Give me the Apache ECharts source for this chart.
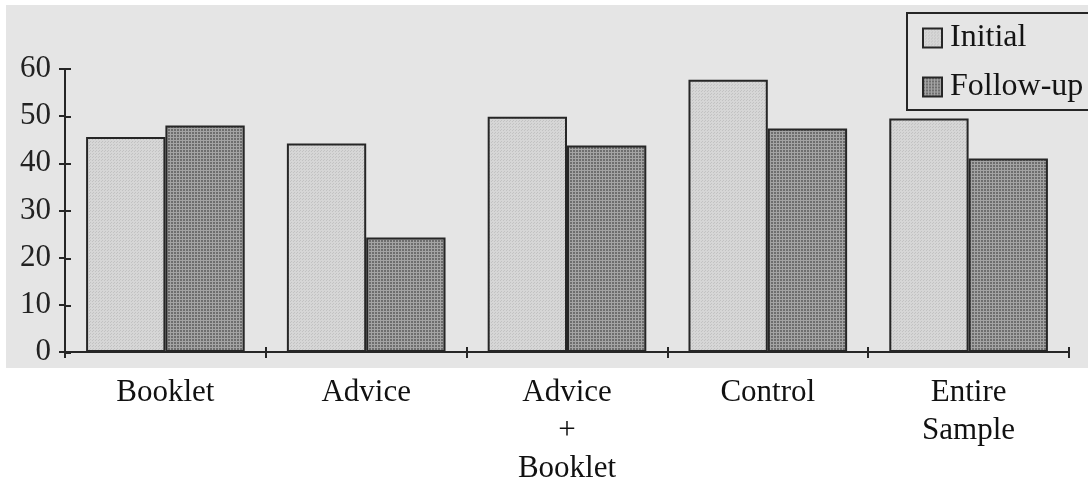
<!DOCTYPE html>
<html>
<head>
<meta charset="utf-8">
<script src="https://cdn.jsdelivr.net/npm/echarts@6/dist/echarts.min.js"></script>
<style>
  html, body { margin: 0; padding: 0; background: #ffffff; }
  #chart { width: 1088px; height: 488px; }
</style>
</head>
<body>
<div id="chart"></div>
<script>
// Groups along the x axis
const categories = ['Booklet', 'Advice', 'Advice\n+\nBooklet', 'Control', 'Entire\nSample'];
// Percentages at the first and second measurement
const initialValues = [45.6, 44.2, 49.9, 57.7, 49.5];
const followUpValues = [48.0, 24.3, 43.8, 47.4, 41.0];
const seriesNames = ['Initial', 'Follow-up'];
const yTicks = { min: 0, max: 60, interval: 10 };

const serif = '"Liberation Serif", "Times New Roman", serif';
const ink = '#262626';
const gridBox = { left: 65, right: 19, top: 69, bottom: 135 };

// Small repeating fills: a fine stipple for the light bars, a fine mesh for the dark bars
function stipple() {
  const c = document.createElement('canvas');
  c.width = 3; c.height = 3;
  const g = c.getContext('2d');
  g.fillStyle = '#d6d6d6'; g.fillRect(0, 0, 3, 3);
  g.fillStyle = '#c2c2c2'; g.fillRect(0, 0, 1, 1); g.fillRect(2, 1, 1, 1);
  return c;
}
function mesh() {
  const c = document.createElement('canvas');
  c.width = 3; c.height = 3;
  const g = c.getContext('2d');
  g.fillStyle = '#a4a4a4'; g.fillRect(0, 0, 3, 3);
  g.fillStyle = '#6e6e6e'; g.fillRect(0, 0, 2, 2);
  return c;
}
const lightFill = { image: stipple(), repeat: 'repeat' };
const darkFill = { image: mesh(), repeat: 'repeat' };

const chart = echarts.init(document.getElementById('chart'), null, { renderer: 'canvas' });

chart.setOption({
  animation: false,
  backgroundColor: '#ffffff',
  graphic: [{
    type: 'rect',
    z: -10,
    silent: true,
    shape: { x: 6, y: 5, width: 1082, height: 363 },
    style: { fill: '#e5e5e5' }
  }],
  legend: {
    orient: 'vertical',
    left: 907,
    top: 13,
    padding: [9, 40, 7, 15],
    itemGap: 17,
    itemWidth: 19,
    itemHeight: 19,
    borderColor: ink,
    borderWidth: 2,
    borderRadius: 0,
    backgroundColor: 'transparent',
    icon: 'rect',
    textStyle: { fontFamily: serif, fontSize: 32, color: '#141414', lineHeight: 32, padding: [0, 0, 0, 3] },
    data: seriesNames
  },
  grid: [
    Object.assign({}, gridBox),
    Object.assign({}, gridBox)
  ],
  xAxis: [{
    type: 'category',
    gridIndex: 0,
    data: categories,
    axisLine: { lineStyle: { color: ink, width: 2 } },
    axisTick: { show: true, length: 6, lineStyle: { color: ink, width: 2 } },
    axisLabel: {
      fontFamily: serif, fontSize: 31, color: '#111', lineHeight: 38,
      margin: 22, interval: 0
    }
  }, {
    type: 'category',
    gridIndex: 1,
    data: categories,
    axisLine: { show: false },
    axisTick: { show: true, inside: true, length: 6, lineStyle: { color: ink, width: 2 } },
    axisLabel: { show: false }
  }],
  yAxis: [{
    type: 'value',
    gridIndex: 0,
    min: yTicks.min, max: yTicks.max, interval: yTicks.interval,
    splitLine: { show: false },
    axisLine: { show: true, lineStyle: { color: ink, width: 2 } },
    axisTick: { show: true, length: 6, lineStyle: { color: ink, width: 2 } },
    axisLabel: { fontFamily: serif, fontSize: 31, color: '#222', margin: 14 }
  }, {
    type: 'value',
    gridIndex: 1,
    min: yTicks.min, max: yTicks.max, interval: yTicks.interval,
    splitLine: { show: false },
    axisLine: { show: false },
    axisTick: { show: true, inside: true, length: 6, lineStyle: { color: ink, width: 2 } },
    axisLabel: { show: false }
  }],
  series: [{
    name: seriesNames[0],
    type: 'bar',
    xAxisIndex: 0, yAxisIndex: 0,
    data: initialValues,
    barGap: '0%',
    barCategoryGap: '21%',
    itemStyle: { color: lightFill, borderColor: ink, borderWidth: 2 }
  }, {
    name: seriesNames[1],
    type: 'bar',
    xAxisIndex: 0, yAxisIndex: 0,
    data: followUpValues,
    barGap: '0%',
    barCategoryGap: '21%',
    itemStyle: { color: darkFill, borderColor: ink, borderWidth: 2 }
  }]
});
</script>
</body>
</html>
